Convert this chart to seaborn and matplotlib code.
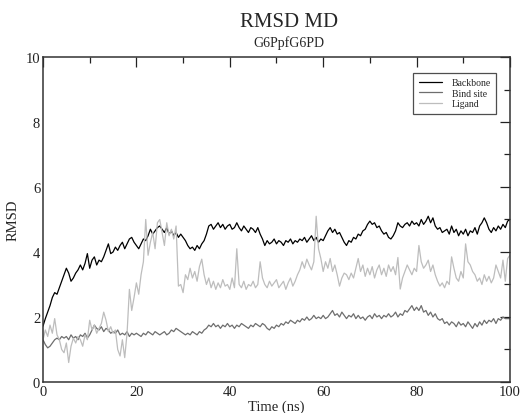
import numpy as np
import pandas as pd
import matplotlib
matplotlib.use("Agg")
import matplotlib.pyplot as plt
import seaborn as sns
from matplotlib.ticker import MultipleLocator
from matplotlib.lines import Line2D

# time axis: 0 .. 100 ns in 0.5 ns steps
time_ns = [i * 0.5 for i in range(201)]

backbone = [
    1.72, 1.95, 2.15, 2.35, 2.6, 2.75, 2.7, 2.9, 3.1, 3.3,
    3.5, 3.35, 3.1, 3.2, 3.35, 3.45, 3.6, 3.45, 3.65, 3.95,
    3.5, 3.75, 3.85, 3.6, 3.75, 3.7, 3.85, 4.05, 4.25, 3.95,
    4.0, 4.15, 4.05, 4.2, 4.3, 4.1, 4.25, 4.4, 4.45, 4.3,
    4.2, 4.1, 4.25, 4.4, 4.35, 4.5, 4.7, 4.55, 4.65, 4.75,
    4.8, 4.7, 4.6, 4.75, 4.55, 4.65, 4.5, 4.6, 4.45, 4.55,
    4.45, 4.35, 4.2, 4.1, 4.15, 4.05, 4.2, 4.1, 4.25, 4.35,
    4.55, 4.8, 4.85, 4.7, 4.8, 4.9, 4.75, 4.85, 4.7, 4.8,
    4.85, 4.7, 4.75, 4.9, 4.75, 4.65, 4.8, 4.7, 4.6, 4.75,
    4.7, 4.6, 4.75, 4.55, 4.4, 4.2, 4.35, 4.25, 4.3, 4.4,
    4.25, 4.35, 4.3, 4.2, 4.35, 4.3, 4.4, 4.25, 4.35, 4.3,
    4.4, 4.35, 4.45, 4.3, 4.4, 4.5, 4.35, 4.45, 4.3, 4.4,
    4.35, 4.5, 4.65, 4.75, 4.6, 4.7, 4.55, 4.6, 4.45, 4.3,
    4.2, 4.35, 4.3, 4.45, 4.4, 4.55, 4.5, 4.65, 4.7, 4.85,
    4.95, 4.85, 4.9, 4.75, 4.8, 4.65, 4.55, 4.6, 4.45, 4.4,
    4.5, 4.65, 4.9, 4.8, 4.75, 4.85, 4.9, 4.8, 4.95, 4.85,
    4.9, 4.8, 5.0, 4.85, 4.95, 5.1, 4.9, 5.05, 4.8, 4.7,
    4.75, 4.6, 4.65, 4.7, 4.55, 4.8, 4.6, 4.7, 4.5, 4.65,
    4.55, 4.7, 4.5, 4.65, 4.6, 4.75, 4.55, 4.8, 4.9, 5.05,
    4.9, 4.7, 4.6, 4.75, 4.65, 4.8, 4.7, 4.85, 4.75, 4.95,
    5.0,
]

bind_site = [
    1.3, 1.15, 1.05, 1.1, 1.2, 1.3, 1.35, 1.3, 1.4, 1.35,
    1.4, 1.3, 1.45, 1.35, 1.4, 1.3, 1.45, 1.4, 1.5, 1.35,
    1.45, 1.6, 1.75, 1.65, 1.6, 1.7, 1.55, 1.65, 1.6, 1.5,
    1.55, 1.5, 1.6, 1.45, 1.5, 1.45, 1.55, 1.4, 1.5, 1.45,
    1.5, 1.45, 1.4, 1.5, 1.45, 1.55, 1.5, 1.45, 1.55, 1.5,
    1.45, 1.5, 1.55, 1.45, 1.5, 1.6, 1.55, 1.65, 1.6, 1.55,
    1.5, 1.45, 1.5, 1.45, 1.55, 1.5, 1.45, 1.55, 1.5, 1.6,
    1.65, 1.75, 1.7, 1.8, 1.7, 1.75, 1.65, 1.75, 1.7, 1.8,
    1.7, 1.75, 1.65, 1.75, 1.7, 1.8, 1.75, 1.7, 1.65, 1.75,
    1.7, 1.8, 1.75, 1.7, 1.8, 1.75, 1.65, 1.6, 1.7, 1.65,
    1.75, 1.7, 1.8, 1.75, 1.85, 1.8, 1.9, 1.85, 1.8, 1.9,
    1.85, 1.95, 1.9, 2.0, 1.9, 1.95, 2.05, 1.95, 2.0, 1.95,
    2.05, 1.95, 2.0, 2.1, 2.2, 2.05, 2.1, 2.0, 2.15, 2.05,
    1.95, 2.05, 2.0, 2.1, 1.95, 2.05, 1.95, 2.0, 1.9, 2.0,
    2.05, 1.95, 2.1, 2.0, 2.05, 1.95, 2.05, 2.0, 2.1, 2.0,
    2.05, 2.15, 2.0, 2.1, 2.05, 2.2, 2.15, 2.25, 2.35, 2.2,
    2.3, 2.2, 2.35, 2.15, 2.2, 2.05, 2.15, 2.0, 2.1, 1.95,
    1.9, 1.95, 1.8, 1.85, 1.75, 1.85, 1.8, 1.7, 1.85, 1.75,
    1.8, 1.7, 1.85, 1.75, 1.65, 1.8, 1.7, 1.85, 1.75, 1.9,
    1.8, 1.9, 1.85, 1.95, 1.8, 1.95, 1.9, 2.0, 1.95, 1.95,
    1.95,
]

ligand = [
    1.3, 1.6, 1.4, 1.75, 1.5, 1.95, 1.45, 1.3, 1.0, 0.9,
    1.2, 0.6, 1.1, 1.35, 1.2, 1.4, 1.3, 1.1, 1.45, 1.3,
    1.9, 1.6, 1.75, 1.5, 1.65, 1.8, 2.15, 1.9, 1.55, 1.7,
    1.5, 1.6, 1.0, 0.8, 1.3, 0.75, 1.5, 2.85, 2.2, 2.6,
    3.05, 2.7, 3.3, 3.7, 5.0, 3.9, 4.3, 4.6, 4.1, 4.9,
    5.0, 4.6, 4.2, 4.9, 4.5, 4.7, 4.4, 4.8, 2.95, 3.0,
    2.75, 3.3, 3.15, 3.5, 3.2, 3.4, 3.1, 3.55, 3.78, 3.3,
    3.0, 3.2, 2.9, 3.1, 2.85, 3.05, 2.9, 3.15, 2.95, 3.0,
    2.85, 3.2, 2.9, 4.1, 3.0, 2.9, 3.1, 2.85, 3.0, 2.95,
    3.1, 2.9, 3.0, 3.7, 3.2, 3.0, 2.9, 3.1, 2.95, 3.05,
    3.15, 2.9, 3.0, 3.1, 2.85, 3.05, 3.2, 2.95, 3.1, 3.3,
    3.45, 3.7, 3.5, 3.78, 3.6, 3.45, 3.7, 5.1, 4.1, 3.8,
    3.4, 3.7, 3.5, 3.8, 3.4, 3.6, 3.3, 2.95, 3.2, 3.35,
    3.3, 3.15, 3.35, 3.2, 3.5, 3.8, 3.4, 3.6, 3.25, 3.5,
    3.3, 3.55, 3.2, 3.45, 3.6, 3.3, 3.5, 3.25, 3.6, 3.4,
    3.55, 3.3, 3.83, 2.86, 3.2, 3.4, 3.6, 3.45, 3.3, 3.5,
    3.4, 4.2, 3.7, 3.5, 3.6, 3.75, 3.4, 3.6, 3.3, 3.1,
    2.95, 3.05, 2.9, 3.1, 3.0, 3.85, 3.5, 3.2, 3.1, 3.4,
    3.2, 4.25, 3.7, 3.6, 3.4, 3.3, 3.1, 3.2, 3.0, 3.3,
    3.1, 3.25, 3.05, 3.2, 3.6, 3.4, 3.2, 3.75, 3.1, 3.8,
    3.9,
]

series_names = ["Backbone", "Bind site", "Ligand"]
series_colors = ["#000000", "#6e6e6e", "#bdbdbd"]

df = pd.DataFrame({
    "time": time_ns * 3,
    "rmsd": backbone + bind_site + ligand,
    "series": [series_names[0]] * len(backbone)
              + [series_names[1]] * len(bind_site)
              + [series_names[2]] * len(ligand),
})

sns.set_style("white")
plt.rcParams["font.family"] = ["Liberation Serif", "DejaVu Serif"]

fig = plt.figure(figsize=(5.2, 4.14), dpi=100)
ax = fig.add_axes([0.0827, 0.0749, 0.898, 0.785])

sns.lineplot(data=df, x="time", y="rmsd", hue="series",
             palette=dict(zip(series_names, series_colors)),
             hue_order=series_names, linewidth=0.9, ax=ax,
             estimator=None, legend=False)

ax.set_xlim(0, 100)
ax.set_ylim(0, 10)
ax.xaxis.set_major_locator(MultipleLocator(20))
ax.xaxis.set_minor_locator(MultipleLocator(10))
ax.yaxis.set_major_locator(MultipleLocator(2))
ax.yaxis.set_minor_locator(MultipleLocator(1))
ax.tick_params(which="both", direction="in", top=True, right=True,
               labelsize=10.5, colors="#222222", width=0.9, pad=2)
ax.tick_params(which="major", length=7)
ax.tick_params(which="minor", length=4)
for s in ax.spines.values():
    s.set_linewidth(1.1)
    s.set_color("#333333")

ax.set_xlabel("Time (ns)", fontsize=10.5, labelpad=1)
ax.set_ylabel("RMSD", fontsize=10.5, labelpad=4)

fig.text(0.556, 0.945, "RMSD MD", ha="center", va="center", fontsize=15)
fig.text(0.556, 0.897, "G6PpfG6PD", ha="center", va="center", fontsize=10)

handles = [Line2D([0], [0], color=c, lw=0.9) for c in series_colors]
leg = ax.legend(handles, series_names, loc="upper right",
                bbox_to_anchor=(0.981, 0.966), fontsize=7, frameon=True,
                fancybox=False, edgecolor="#222222", handlelength=2.4,
                handletextpad=1.0, borderpad=0.55, labelspacing=0.15)
leg.get_frame().set_linewidth(0.9)

fig.savefig("out.png", dpi=100)
